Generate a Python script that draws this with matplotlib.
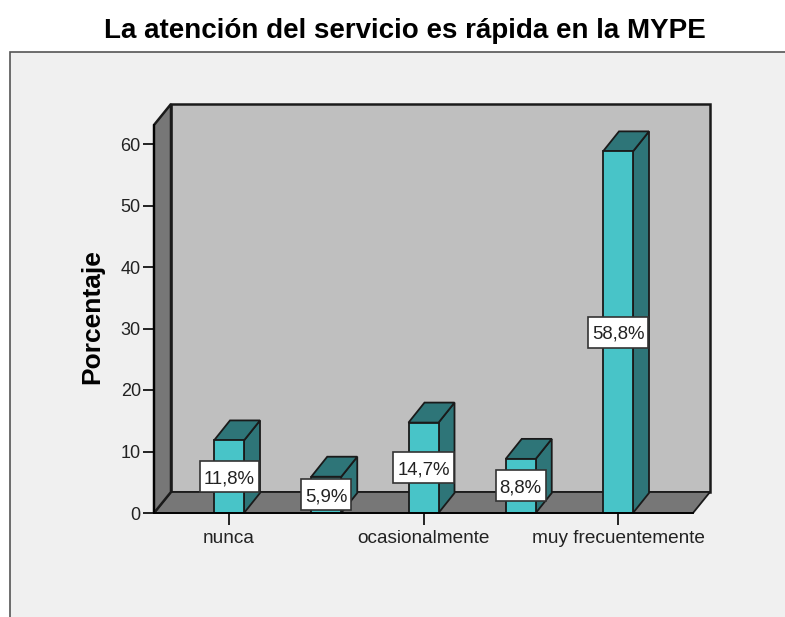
import numpy as np
import matplotlib
matplotlib.use("Agg")
import matplotlib.pyplot as plt
from matplotlib.patches import Polygon, Rectangle

plt.rcParams["font.family"] = ["Liberation Sans", "DejaVu Sans"]

# Values (the 2nd and 4th category names are not printed)
tick_labels = ["nunca", "", "ocasionalmente", "", "muy frecuentemente"]
percentages = [11.8, 5.9, 14.7, 8.8, 58.8]
value_labels = ["11,8%", "5,9%", "14,7%", "8,8%", "58,8%"]
y_ticks = [0, 10, 20, 30, 40, 50, 60]

FRONT = "#48C4C8"
DARK = "#2E7578"
WALL = "#BFBFBF"
SIDE = "#777777"
PAPER = "#F0F0F0"

W, H = 785, 617
# Size of the plot front plane, in pixels
LEFT, RIGHT, BOTTOM, TOP = 154, 693, 513, 125

fig = plt.figure(figsize=(W / 100, H / 100), dpi=100, facecolor="white")

# Outer grey frame, open towards the right and bottom edges
fig.add_artist(Rectangle((9.5 / W, -0.1), 1.0, 1.1 - 51.5 / H, transform=fig.transFigure,
                         facecolor=PAPER, edgecolor="#555555", linewidth=1.2, zorder=-1))

ax = fig.add_axes([LEFT / W, 1 - BOTTOM / H, (RIGHT - LEFT) / W, (BOTTOM - TOP) / H])
ax.patch.set_visible(False)

# One category is 97.25 px wide, one percent is 6.15 px high
px_x = 97.25
px_y = 6.15
ax.set_xlim((LEFT - 229) / px_x, (RIGHT - 229) / px_x)
ax.set_ylim(0, (BOTTOM - TOP) / px_y)
x0, x1 = ax.get_xlim()
y0, y1 = ax.get_ylim()

wall_dx, wall_dy = 17 / px_x, 21 / px_y
bar_dx, bar_dy = 16 / px_x, 20 / px_y
bar_w = 30 / px_x


def add_poly(points, color, zorder, lw=1.3):
    ax.add_patch(Polygon(points, closed=True, facecolor=color, edgecolor="#1a1a1a",
                         linewidth=lw, joinstyle="miter", clip_on=False, zorder=zorder))


# Back wall, floor and left wall
add_poly([(x0 + wall_dx, wall_dy), (x1 + wall_dx, wall_dy),
          (x1 + wall_dx, y1 + wall_dy), (x0 + wall_dx, y1 + wall_dy)], WALL, 1, lw=1.8)
add_poly([(x0, 0), (x1, 0), (x1 + wall_dx, wall_dy), (x0 + wall_dx, wall_dy)], SIDE, 1.1)
add_poly([(x0, 0), (x0 + wall_dx, wall_dy), (x0 + wall_dx, y1 + wall_dy), (x0, y1)], SIDE, 1.2, lw=1.8)

# Bars: side, top, then front face
positions = np.arange(len(percentages))
for pos, value in zip(positions, percentages):
    l, r = pos - bar_w / 2, pos + bar_w / 2
    add_poly([(r, 0), (r + bar_dx, bar_dy), (r + bar_dx, value + bar_dy), (r, value)], DARK, 2)
    add_poly([(l, value), (r, value), (r + bar_dx, value + bar_dy), (l + bar_dx, value + bar_dy)], DARK, 2)
ax.bar(positions, percentages, width=bar_w, color=FRONT, edgecolor="#1a1a1a", linewidth=1.3, zorder=3)

# Label boxes are taller than the text, so they are sized from the measured text width
renderer = fig.canvas.get_renderer()
for pos, value, label in zip(positions, percentages, value_labels):
    txt = ax.text(pos, value / 2, label, ha="center", va="center_baseline", fontsize=13.4,
                  color="#222222", zorder=6)
    box_w = (txt.get_window_extent(renderer).width + 8) / px_x
    box_h = 31 / px_y
    ax.add_patch(Rectangle((pos - box_w / 2, value / 2 - box_h / 2), box_w, box_h, facecolor="white",
                           edgecolor="#333333", linewidth=1.2, clip_on=False, zorder=5))

for side in ["top", "right"]:
    ax.spines[side].set_visible(False)
ax.spines["left"].set_linewidth(1.3)
ax.spines["bottom"].set_linewidth(1.3)
ax.spines["left"].set_zorder(4)
ax.spines["bottom"].set_zorder(4)

ax.set_yticks(y_ticks)
shown = [i for i, name in enumerate(tick_labels) if name]
ax.set_xticks(shown)
ax.set_xticklabels([tick_labels[i] for i in shown])
ax.tick_params(axis="y", length=8, width=1.2, labelsize=13, pad=1.5, labelcolor="#222222")
ax.tick_params(axis="x", length=8.5, width=1.2, labelsize=13.7, pad=3.5, labelcolor="#222222")

fig.text(92 / W, 1 - 317 / H, "Porcentaje", rotation=90, ha="center", va="center",
         fontsize=19, fontweight="bold")
fig.text(405 / W, 1 - 31 / H, "La atención del servicio es rápida en la MYPE", ha="center", va="center",
         fontsize=20, fontweight="bold")

fig.savefig("out.png", dpi=100)
